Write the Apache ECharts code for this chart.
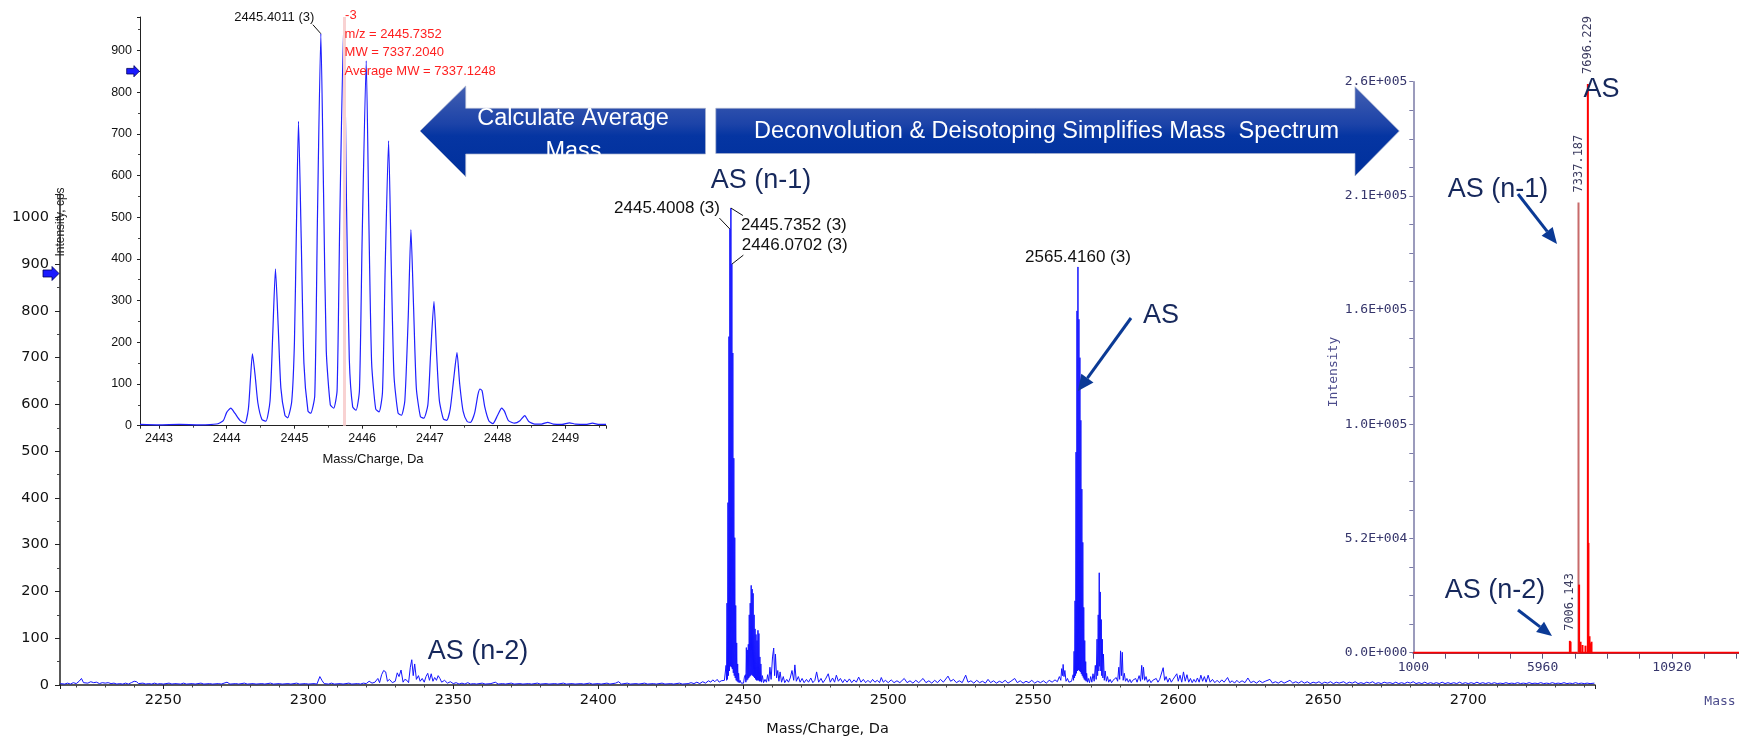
<!DOCTYPE html>
<html><head><meta charset="utf-8">
<script src="https://cdn.jsdelivr.net/npm/echarts@6/dist/echarts.min.js"></script>
<style>html,body{margin:0;padding:0;background:#fff}#chart{width:1739px;height:742px}</style>
</head><body><div id="chart"></div><script>
// ---------- DATA ----------
// Main ESI spectrum (m/z, counts per second)
const mainSpectrum = [
[2214.5,3],[2216,2],[2217,4],[2218,2],[2219,5],[2220,3],[2221,8],[2221.8,14],[2222.5,5],[2223,9],[2224,4],[2225,7],[2226,5],[2227,6],[2228,3],[2229,5],[2230,4],[2231,5],[2232,3],[2233,4],[2234,2],[2235,3],[2236,2],[2237,4],[2238,2],[2239,5],[2240,8],[2240.8,7],[2241.5,3],[2243,4],[2244,2],[2245,3],[2246,2],[2247,4],[2248,2],[2249,3],[2250,2],[2252,4],[2253,2],[2254,3],[2256,2],[2257,4],[2258,2],[2260,3],[2261,2],[2263,4],[2264,2],[2266,3],[2267,2],[2269,3],[2270,2],[2272,6],[2273,2],[2275,3],[2276,2],[2278,4],[2279,2],[2281,3],[2282,2],[2284,3],[2285,2],[2287,4],[2288,2],[2290,3],[2291,2],[2293,3],[2294,2],[2296,4],[2297,2],[2299,3],[2300,2],[2302,3],[2303,2],[2304,18],[2304.8,9],[2305.5,3],[2307,2],[2308,4],[2309,2],[2311,3],[2312,2],[2314,4],[2315,2],[2317,3],[2318,2],[2319,4],[2320,3],[2321,8],[2322,4],[2323,6],[2324,14],[2324.6,5],[2325.3,22],[2326,31],[2326.7,28],[2327.3,8],[2328,12],[2329,5],[2330,8],[2330.7,26],[2331.3,18],[2332,32],[2332.7,6],[2333.3,12],[2334,10],[2334.6,5],[2335.2,38],[2335.7,54],[2336.2,20],[2336.7,45],[2337.3,12],[2338,20],[2338.6,8],[2339.3,14],[2340,6],[2340.6,18],[2341.2,25],[2341.8,10],[2342.4,24],[2343,8],[2343.6,16],[2344.2,10],[2344.8,20],[2345.4,14],[2346,6],[2347,10],[2348,4],[2349,7],[2350,3],[2351,5],[2352,2],[2353,4],[2354,2],[2355,5],[2356,2],[2357,3],[2358,2],[2360,4],[2361,2],[2363,3],[2364.5,6],[2365.5,2],[2367,3],[2368,2],[2370,4],[2371,2],[2373,3],[2374,2],[2376,3],[2377,2],[2379,4],[2380,2],[2382,3],[2383,2],[2385,3],[2386,2],[2388,4],[2389,2],[2391,3],[2392,2],[2394,3],[2395,2],[2397,4],[2398,2],[2400,3],[2401,2],[2403,4],[2404,2],[2406,4],[2407,7],[2408,2],[2410,4],[2411,2],[2413,3],[2414,2],[2416,4],[2417,2],[2419,3],[2420,2],[2422,4],[2423,2],[2425,3],[2426,2],[2428,4],[2429,2],[2431,3],[2432,5],[2433,3],[2434,6],[2435,3],[2436,7],[2437,4],[2438,9],[2438.8,6],[2439.5,11],[2440.2,7],[2441,12],[2441.7,6],[2442.4,9],[2443,5],[2443.5,10],
[2443.9,12],[2444.07,42],[2444.24,10],[2444.40,175],[2444.56,12],[2444.73,390],[2444.9,20],[2445.07,745],[2445.23,30],[2445.40,975],[2445.57,40],[2445.74,1020],[2445.9,38],[2446.07,900],[2446.24,34],[2446.40,710],[2446.57,26],[2446.74,485],[2446.9,20],[2447.07,315],[2447.24,15],[2447.40,170],[2447.57,10],[2447.74,90],[2447.9,8],[2448.07,45],[2448.24,6],[2448.40,25],[2448.6,5],[2448.9,10],[2449.3,4],[2449.7,8],[2450.1,4],[2450.4,17],[2450.74,22],[2450.9,6],[2451.07,80],[2451.24,10],[2451.40,75],[2451.57,12],[2451.74,87],[2451.9,15],[2452.07,150],[2452.24,18],[2452.40,175],[2452.57,20],[2452.74,213],[2452.9,22],[2453.07,205],[2453.24,20],[2453.40,196],[2453.57,18],[2453.74,150],[2453.9,15],[2454.07,120],[2454.24,12],[2454.40,108],[2454.57,10],[2454.74,95],[2454.9,10],[2455.07,117],[2455.24,10],[2455.40,110],[2455.57,8],[2455.74,60],[2455.9,8],[2456.07,45],[2456.3,6],[2456.6,20],[2457,5],[2457.5,12],[2458,6],[2458.4,22],[2458.8,8],[2459.2,38],[2459.6,12],[2460.1,60],[2460.5,79],[2460.8,20],[2461.1,66],[2461.5,15],[2461.9,31],[2462.3,8],[2462.7,28],[2463.2,6],[2463.8,18],[2464.3,5],[2465,12],[2465.6,6],[2466.2,15],[2466.8,31],[2467.4,10],[2467.8,43],[2468.3,8],[2469,18],[2469.6,6],[2470.3,14],[2471,5],[2471.8,12],[2472.5,6],[2473.3,15],[2474,5],[2474.7,10],[2475.3,28],[2476,6],[2476.8,14],[2477.5,5],[2478.3,12],[2479.3,24],[2480,6],[2480.8,15],[2481.5,6],[2482.1,21],[2482.8,8],[2483.5,14],[2484.3,5],[2485,12],[2485.8,6],[2486.6,13],[2487.4,5],[2488.2,11],[2489,6],[2489.8,17],[2490.6,6],[2491.4,12],[2492.2,5],[2493,10],[2493.8,5],[2494.6,12],[2495.4,6],[2496.2,10],[2497,5],[2497.6,16],[2498.3,6],[2499,10],[2500,5],[2501,11],[2502,5],[2503,9],[2504,5],[2505.5,14],[2506.5,5],[2507.5,9],[2508.5,4],[2509.5,10],[2510.5,5],[2512,14],[2513,5],[2514,9],[2515,4],[2516,10],[2517,5],[2518,12],[2519,6],[2520.6,19],[2521.5,8],[2522.5,12],[2523.5,5],[2524.5,9],[2525.5,5],[2526.7,21],[2527.5,6],[2528.5,9],[2529.5,4],[2530.5,10],[2531.5,5],[2532.5,8],[2533.5,4],[2534.4,12],[2535.3,5],[2536.3,9],[2537.3,4],[2538.3,8],[2539.3,5],[2540.3,10],[2541.3,4],[2542.3,8],[2543.6,14],[2544.5,5],[2545.5,9],[2546.5,4],[2547.5,8],[2548.5,5],[2549.5,10],[2550.5,4],[2551.5,8],[2552.5,5],[2553.5,9],[2554.5,4],[2555.5,10],[2556.5,6],[2557.5,11],[2558.3,7],[2559,18],[2559.5,10],[2559.8,35],[2560.1,20],[2560.3,44],[2560.6,18],[2560.9,31],[2561.3,8],[2561.8,14],[2562.3,6],[2562.8,10],[2563.2,8],[2563.5,16],
[2563.75,22],[2563.9,10],[2564.08,72],[2564.24,15],[2564.41,180],[2564.58,20],[2564.75,498],[2564.91,25],[2565.08,800],[2565.25,30],[2565.41,894],[2565.58,32],[2565.75,782],[2565.91,30],[2566.08,700],[2566.25,28],[2566.41,566],[2566.58,24],[2566.75,419],[2566.91,20],[2567.08,305],[2567.25,16],[2567.41,166],[2567.58,12],[2567.75,95],[2567.91,10],[2568.08,50],[2568.25,8],[2568.41,25],[2568.7,6],[2569,14],[2569.4,5],[2569.8,18],[2570.2,6],[2570.6,24],[2571,8],[2571.4,42],[2571.7,12],[2572.0,98],[2572.2,20],[2572.4,150],[2572.6,30],[2572.75,240],[2572.9,40],[2573.1,199],[2573.3,30],[2573.45,140],[2573.6,20],[2573.8,98],[2574,15],[2574.2,66],[2574.5,10],[2574.8,30],[2575.2,8],[2575.6,18],[2576,6],[2576.5,12],[2577,5],[2577.5,10],[2578,6],[2578.6,16],[2579.1,8],[2579.5,38],[2579.8,12],[2580.1,73],[2580.4,20],[2580.7,70],[2581,10],[2581.4,25],[2581.8,8],[2582.3,14],[2582.8,6],[2583.3,12],[2583.8,5],[2584.3,10],[2584.8,6],[2585.3,14],[2585.8,6],[2586.5,20],[2587,8],[2587.4,42],[2587.7,12],[2588,38],[2588.4,10],[2588.9,18],[2589.4,6],[2590,12],[2590.6,5],[2591.2,10],[2591.8,6],[2592.4,14],[2593,6],[2593.6,12],[2594.2,8],[2594.8,37],[2595.3,10],[2595.8,18],[2596.4,6],[2597,15],[2597.6,6],[2598.2,12],[2598.8,8],[2599.5,24],[2600,8],[2600.6,21],[2601.2,6],[2601.8,28],[2602.4,8],[2603,22],[2603.6,6],[2604.2,14],[2604.8,5],[2605.4,12],[2606,6],[2606.6,15],[2607.2,6],[2607.8,21],[2608.4,8],[2609,18],[2609.6,6],[2610.3,21],[2611,6],[2611.8,12],[2612.6,5],[2613.4,10],[2614.2,5],[2615,11],[2615.8,6],[2617,16],[2617.8,5],[2618.6,9],[2619.4,4],[2620.2,10],[2621,5],[2622,9],[2623,5],[2624,15],[2625,5],[2626,8],[2627,4],[2628,9],[2629,5],[2630,8],[2631.6,12],[2632.5,4],[2633.5,7],[2634.5,4],[2635.5,8],[2636.5,4],[2637.5,7],[2638.5,10],[2639.5,4],[2640.5,7],[2641.5,4],[2642.5,8],[2643.5,4],[2644.5,7],[2645.5,3],[2646.5,6],[2647.5,4],[2648.5,7],[2649.5,3],[2650.5,6],[2651.5,4],[2652.5,7],[2653.5,3],[2654.5,6],[2655.5,4],[2657,7],[2658,3],[2659,6],[2660,4],[2661,7],[2662,3],[2663,5],[2664,3],[2665,6],[2666,4],[2667,7],[2668,3],[2669,5],[2670,3],[2671,6],[2672,4],[2673,5],[2674,3],[2675,6],[2676,3],[2677,5],[2678,3],[2679,6],[2680,4],[2681,7],[2682,3],[2683,5],[2684,3],[2685,6],[2686,3],[2687,5],[2688,3],[2689,5],[2690,3],[2691,6],[2692,3],[2693,5],[2694,3],[2695,5],[2696,3],[2697,6],[2698,3],[2699,5],[2700,3],[2701,5],[2702,3],[2703,6],[2704,3],[2705,5],[2706,3],[2707,5],[2708,3],[2709,5],[2710,3],[2711,4],[2712,3],[2713,5],[2714,3],[2715,4],[2716,3],[2717,5],[2718,3],[2719,4],[2720,3],[2721,5],[2722,3],[2723,4],[2724,3],[2725,5],[2726,3],[2727,4],[2728,3],[2729,5],[2730,3],[2731,4],[2732,3],[2733,5],[2734,3],[2735,4],[2736,3],[2737,5],[2738,3],[2739,4],[2740,3],[2741,4],[2742,3],[2743.5,4]
];
// Inset: zoomed isotope profile of the 3+ ion of AS (n-1)
const insetProfile = [
[2442.72,3],[2443.0,2],[2443.3,3],[2443.6,2],[2443.85,4],[2443.95,12],[2444.0,32],[2444.06,42],[2444.12,30],[2444.2,12],[2444.27,6],
[2444.32,40],[2444.35,110],[2444.38,172],[2444.42,120],[2444.46,55],[2444.52,15],[2444.58,11],
[2444.64,60],[2444.68,220],[2444.72,376],[2444.76,240],[2444.8,90],[2444.86,25],[2444.9,19],[2444.96,58],
[2445.0,200],[2445.03,480],[2445.06,730],[2445.1,450],[2445.14,150],[2445.2,35],[2445.24,30],[2445.3,72],
[2445.34,500],[2445.39,940],[2445.43,560],[2445.47,180],[2445.53,50],[2445.58,42],[2445.63,85],
[2445.67,500],[2445.73,975],[2445.77,520],[2445.81,160],[2445.86,45],[2445.91,37],[2445.96,85],
[2446.0,450],[2446.06,875],[2446.1,480],[2446.14,150],[2446.2,40],[2446.25,33],[2446.3,80],
[2446.34,380],[2446.39,683],[2446.43,380],[2446.47,120],[2446.53,30],[2446.58,25],[2446.63,60],
[2446.68,260],[2446.72,470],[2446.76,280],[2446.8,90],[2446.86,22],[2446.91,18],[2446.97,50],
[2447.01,170],[2447.06,298],[2447.1,170],[2447.14,60],[2447.2,16],[2447.25,13],[2447.3,40],
[2447.35,110],[2447.4,175],[2447.44,100],[2447.49,35],[2447.55,10],[2447.6,8],[2447.66,30],
[2447.71,75],[2447.74,88],[2447.77,84],[2447.81,45],[2447.87,12],[2447.93,5],[2448.0,25],
[2448.06,42],[2448.1,35],[2448.16,12],[2448.25,6],[2448.33,12],[2448.4,24],[2448.46,10],[2448.55,4],
[2448.65,4],[2448.74,8],[2448.82,4],[2448.95,3],[2449.06,7],[2449.15,4],[2449.3,3],[2449.4,6],[2449.5,3],[2449.6,3]
];
const insetMarkerMz = 2445.74;
// Deconvoluted (zero-charge) spectrum
const deconMass      = [7006.143, 7032, 7337.187, 7360, 7415, 7490, 7605, 7696.229, 7718, 7760, 7796, 7836];
const deconIntensity = [5400, 5000, 205000, 31000, 5000, 3500, 3200, 259000, 50000, 7500, 4300, 5000];
const deconLabels    = ['7006.143', '', '7337.187', '', '', '', '', '7696.229', '', '', '', ''];
const deconBaseline  = [[1000, 0], [13494, 0]];
// Annotated peaks
const mainPeakLabels = [
  ['2445.4008 (3)', 2445.40, 975],
  ['2445.7352 (3)', 2445.74, 1020],
  ['2446.0702 (3)', 2446.07, 900],
  ['2565.4160 (3)', 2565.41, 894]
];
const insetPeakLabel = ['2445.4011 (3)', 2445.39, 940];
const insetInfo = ['-3', 'm/z = 2445.7352', 'MW = 7337.2040', 'Average MW = 7337.1248'];
const mainArrowLevel = 880, insetArrowLevel = 850;

// ---------- CHART ----------
function sci(v){
  if (v === 0) return '0.0E+000';
  const e = Math.floor(Math.log10(v) + 1e-9);
  const m = v / Math.pow(10, e);
  return m.toFixed(1) + 'E+' + String(e).padStart(3, '0');
}
const plain = v => String(Math.round(v));
const navy = '#35356b';
const option = {
  animation: false,
  backgroundColor: '#ffffff',
  grid: [
    {left: 60, right: 144, top: 194, bottom: 47},
    {left: 140, right: 1133, top: 17, bottom: 316.3},
    {left: 1413.3, right: 0, top: 81.7, bottom: 89.3}
  ],
  xAxis: [
    {gridIndex: 0, type: 'value', min: 2214.4, max: 2743.7, splitNumber: 10, minInterval: 50, maxInterval: 50,
     name: 'Mass/Charge, Da', nameLocation: 'middle', nameGap: 37,
     nameTextStyle: {fontFamily: 'DejaVu Sans', fontSize: 14.5, color: '#111'},
     axisLine: {onZero: false, lineStyle: {color: '#222', width: 1.5}},
     axisTick: {length: 4, lineStyle: {color: '#222'}},
     minorTick: {show: true, splitNumber: 5, length: 2.5, lineStyle: {color: '#444'}},
     axisLabel: {fontFamily: 'DejaVu Sans', fontSize: 14.5, color: '#111', margin: 8, showMinLabel: false, showMaxLabel: false, formatter: plain},
     splitLine: {show: false}},
    {gridIndex: 1, type: 'value', min: 2442.72, max: 2449.6, splitNumber: 7, minInterval: 1, maxInterval: 1,
     name: 'Mass/Charge, Da', nameLocation: 'middle', nameGap: 27,
     nameTextStyle: {fontFamily: 'Liberation Sans', fontSize: 13, color: '#111'},
     axisLine: {onZero: false, lineStyle: {color: '#222', width: 1}},
     axisTick: {length: 3, lineStyle: {color: '#222'}},
     minorTick: {show: true, splitNumber: 2, length: 2, lineStyle: {color: '#444'}},
     axisLabel: {fontFamily: 'Liberation Sans', fontSize: 12.5, color: '#111', margin: 6, showMinLabel: false, showMaxLabel: false, formatter: plain},
     splitLine: {show: false}},
    {gridIndex: 2, type: 'value', min: 1000, max: 13494, interval: 4960,
     axisLine: {onZero: false, lineStyle: {color: '#55557a', width: 2}},
     axisTick: {length: 6, lineStyle: {color: '#55557a'}},
     minorTick: {show: true, splitNumber: 4, length: 6, lineStyle: {color: '#55557a'}},
     axisLabel: {fontFamily: 'DejaVu Sans Mono', fontSize: 13, color: navy, margin: 8, showMaxLabel: false, formatter: plain},
     splitLine: {show: false}}
  ],
  yAxis: [
    {gridIndex: 0, type: 'value', min: 0, max: 1050, interval: 100,
     axisLine: {show: true, lineStyle: {color: '#222', width: 1.5}},
     axisTick: {show: true, length: 5, lineStyle: {color: '#222'}},
     minorTick: {show: true, splitNumber: 2, length: 3, lineStyle: {color: '#444'}},
     axisLabel: {fontFamily: 'DejaVu Sans', fontSize: 14.5, color: '#111', margin: 11, showMaxLabel: false, formatter: plain},
     splitLine: {show: false}},
    {gridIndex: 1, type: 'value', min: 0, max: 980, interval: 100,
     axisLine: {show: true, lineStyle: {color: '#222', width: 1}},
     axisTick: {show: true, length: 3, lineStyle: {color: '#222'}},
     minorTick: {show: true, splitNumber: 2, length: 2, lineStyle: {color: '#444'}},
     axisLabel: {fontFamily: 'Liberation Sans', fontSize: 12.5, color: '#111', margin: 8, showMaxLabel: false, formatter: plain},
     splitLine: {show: false}},
    {gridIndex: 2, type: 'value', min: 0, max: 260000, interval: 52000,
     axisLine: {show: true, lineStyle: {color: '#7a7aa6', width: 1.5}},
     axisTick: {show: true, length: 4, lineStyle: {color: '#7a7aa6'}},
     minorTick: {show: true, splitNumber: 4, length: 4, lineStyle: {color: '#7a7aa6'}},
     axisLabel: {fontFamily: 'DejaVu Sans Mono', fontSize: 13, color: navy, margin: 6, formatter: sci},
     splitLine: {show: false}}
  ],
  series: [
    {type: 'line', name: 'main', xAxisIndex: 0, yAxisIndex: 0, data: mainSpectrum, showSymbol: false,
     lineStyle: {color: '#1414ff', width: 1}, z: 3, silent: true},
    {type: 'line', name: 'inset', xAxisIndex: 1, yAxisIndex: 1, data: insetProfile, showSymbol: false, smooth: 0.2,
     lineStyle: {color: '#2020ff', width: 1.2}, z: 3, silent: true,
     markLine: {silent: true, symbol: 'none', label: {show: false},
       lineStyle: {color: '#f8d2d2', width: 3, type: 'solid'}, data: [{xAxis: insetMarkerMz}]}},
    {type: 'line', name: 'deconBase', xAxisIndex: 2, yAxisIndex: 2, data: deconBaseline, showSymbol: false,
     lineStyle: {color: '#ff0000', width: 2}, z: 4, silent: true},
    {type: 'bar', name: 'decon', xAxisIndex: 2, yAxisIndex: 2, barWidth: 2, z: 5, silent: true,
     data: deconMass.map((m, i) => ({
       value: [m, deconIntensity[i]],
       itemStyle: {color: deconLabels[i] === '7337.187' ? '#c86a6a' : '#ff0000'},
       label: {show: deconLabels[i] !== '', formatter: deconLabels[i], position: 'top', rotate: 90,
               align: 'left', verticalAlign: 'middle', distance: 10,
               fontFamily: 'DejaVu Sans Mono', fontSize: 12, color: '#3c3c60'}
     }))}
  ]
};
const chart = echarts.init(document.getElementById('chart'));
chart.setOption(option);

// ---------- ANNOTATIONS ----------
const G = [];
function txt(x, y, text, size, family, fill, align, va, rot){
  return {type: 'text', x: x, y: y, rotation: rot || 0, z: 100, silent: true,
    style: {text: text, fontSize: size, fontFamily: family, fill: fill, align: align || 'center', verticalAlign: va || 'middle'}};
}
function seg(x1, y1, x2, y2, stroke, w){
  return {type: 'line', z: 100, silent: true, shape: {x1: x1, y1: y1, x2: x2, y2: y2}, style: {stroke: stroke, lineWidth: w || 1}};
}
function arrow(x1, y1, x2, y2, color, w, hl, hw){
  const a = Math.atan2(y2 - y1, x2 - x1);
  const bx = x2 - hl * Math.cos(a), by = y2 - hl * Math.sin(a);
  const nx = -Math.sin(a), ny = Math.cos(a);
  G.push(seg(x1, y1, bx, by, color, w));
  G.push({type: 'polygon', z: 100, silent: true,
    shape: {points: [[x2, y2], [bx + nx * hw / 2, by + ny * hw / 2], [bx - nx * hw / 2, by - ny * hw / 2]]},
    style: {fill: color}});
}
function marker(tip, y, s){
  G.push({type: 'polygon', z: 100, silent: true,
    shape: {points: [[tip, y], [tip - 7 * s, y - 7 * s], [tip - 7 * s, y - 3.5 * s], [tip - 16 * s, y - 3.5 * s],
                     [tip - 16 * s, y + 3.5 * s], [tip - 7 * s, y + 3.5 * s], [tip - 7 * s, y + 7 * s]]},
    style: {fill: '#1a1aff', stroke: '#00005a', lineWidth: 0.8}});
}
const P = (gi, pt) => chart.convertToPixel({xAxisIndex: gi, yAxisIndex: gi}, pt);
const SANS = 'Liberation Sans';

// banner arrows
const grad = new echarts.graphic.LinearGradient(0, 0, 0, 1, [
  {offset: 0, color: '#4460b2'}, {offset: 0.42, color: '#1c43a8'}, {offset: 0.55, color: '#0535a2'}, {offset: 1, color: '#00309c'}]);
G.push({type: 'polygon', z: 90, silent: true,
  shape: {points: [[420, 131], [465.7, 86], [465.7, 108.3], [705.5, 108.3], [705.5, 154], [465.7, 154], [465.7, 176.7]]},
  style: {fill: grad, stroke: 'rgba(170,178,205,0.7)', lineWidth: 1}});
G.push({type: 'polygon', z: 90, silent: true,
  shape: {points: [[715.8, 108.3], [1355, 108.3], [1355, 86.7], [1399.3, 131], [1355, 176], [1355, 153.5], [715.8, 153.5]]},
  style: {fill: grad, stroke: 'rgba(170,178,205,0.7)', lineWidth: 1}});
G.push(txt(573, 119, 'Calculate Average', 23.5, SANS, '#ffffff'));
G.push(txt(573.5, 152, 'Mass', 23.5, SANS, '#ffffff'));
G.push(txt(1046.5, 131.5, 'Deconvolution & Deisotoping Simplifies Mass  Spectrum', 23.5, SANS, '#ffffff'));

// main spectrum annotations
const AS = '#16285c', ARW = '#0b3a95';
G.push(txt(761, 181, 'AS (n-1)', 27, SANS, AS));
G.push(txt(478, 652, 'AS (n-2)', 27, SANS, AS));
G.push(txt(1161, 316, 'AS', 27, SANS, AS));
arrow(1131, 318, 1078, 391, ARW, 3, 16, 15);
// peak labels
let p = P(0, [mainPeakLabels[0][1], mainPeakLabels[0][2]]);
G.push(seg(p[0] - 10.5, p[1] - 11, p[0], p[1], '#111', 1));
G.push(txt(p[0] - 10, p[1] - 21, mainPeakLabels[0][0], 17, SANS, '#111', 'right'));
p = P(0, [mainPeakLabels[1][1], mainPeakLabels[1][2]]);
G.push(seg(p[0], p[1], p[0] + 12, p[1] + 7.5, '#111', 1));
G.push(txt(p[0] + 10, p[1] + 17, mainPeakLabels[1][0], 17, SANS, '#111', 'left'));
p = P(0, [mainPeakLabels[2][1], mainPeakLabels[2][2]]);
G.push(seg(p[0] + 11.5, p[1] - 9, p[0], p[1], '#111', 1));
G.push(txt(p[0] + 10, p[1] - 19, mainPeakLabels[2][0], 17, SANS, '#111', 'left'));
p = P(0, [mainPeakLabels[3][1], mainPeakLabels[3][2]]);
G.push(txt(p[0], p[1] - 10, mainPeakLabels[3][0], 17, SANS, '#111', 'center'));
// axis name + marker for main y axis
G.push(txt(61, 222, 'Intensity, cps', 12, SANS, '#222', 'center', 'middle', Math.PI / 2));
p = P(0, [2214.4, mainArrowLevel]);
marker(p[0] - 1, p[1], 1);

// inset annotations
p = P(1, [insetPeakLabel[1], insetPeakLabel[2]]);
G.push(seg(p[0] - 8, p[1] - 9, p[0], p[1], '#111', 1));
G.push(txt(p[0] - 6.5, p[1] - 16.7, insetPeakLabel[0], 13, SANS, '#111', 'right'));
const bx = P(1, [insetMarkerMz, 0])[0];
G.push(txt(bx + 0.5, 15, insetInfo[0], 13, SANS, '#ff2020', 'left'));
G.push(txt(bx, 34, insetInfo[1], 13, SANS, '#ff2020', 'left'));
G.push(txt(bx, 52.7, insetInfo[2], 13, SANS, '#ff2020', 'left'));
G.push(txt(bx, 71, insetInfo[3], 13, SANS, '#ff2020', 'left'));
p = P(1, [2442.72, insetArrowLevel]);
marker(p[0] - 0.5, p[1], 0.8);

// deconvoluted panel annotations
G.push(txt(1334, 372, 'Intensity', 13, 'DejaVu Sans Mono', '#4d4d8c', 'center', 'middle', Math.PI / 2));
G.push(txt(1720, 702, 'Mass', 13, 'DejaVu Sans Mono', '#4d4d8c'));
G.push(txt(1601.5, 90, 'AS', 27, SANS, AS));
G.push(txt(1498, 190, 'AS (n-1)', 27, SANS, AS));
G.push(txt(1495, 591, 'AS (n-2)', 27, SANS, AS));
arrow(1518, 194, 1557, 244, ARW, 3, 16, 14);
arrow(1518, 610, 1552, 636, ARW, 3, 15, 13);

chart.setOption({graphic: G});
</script></body></html>
